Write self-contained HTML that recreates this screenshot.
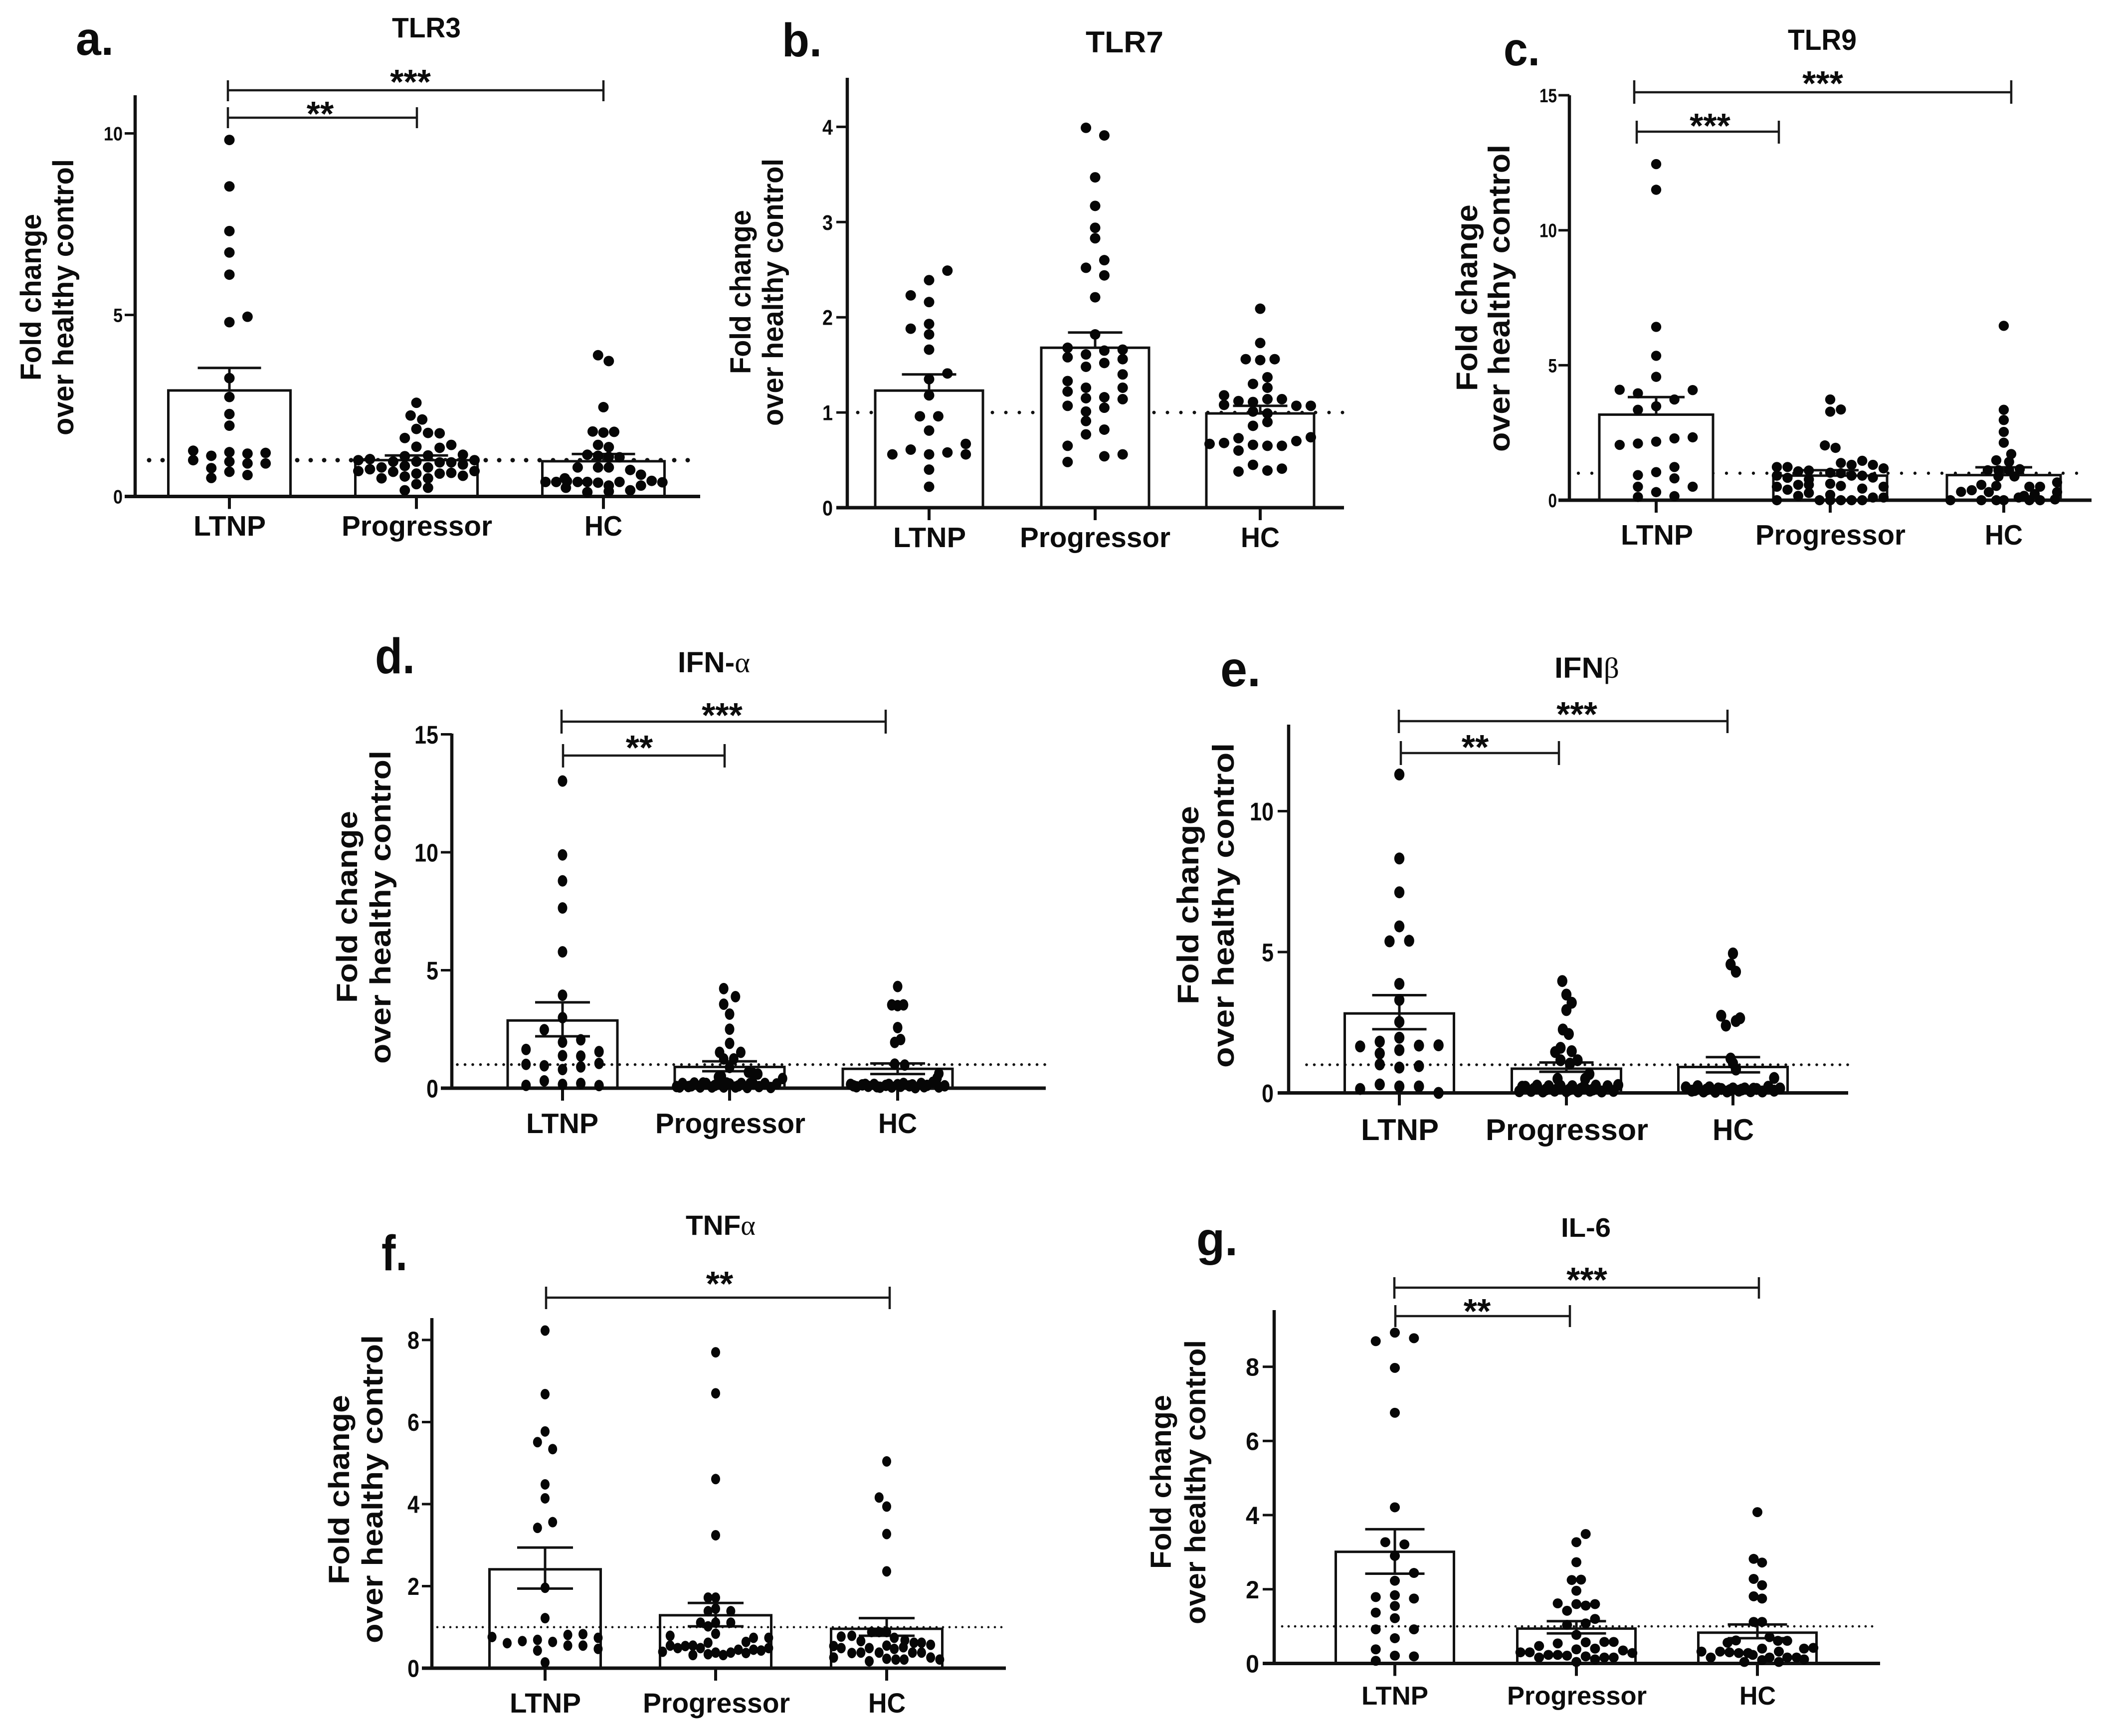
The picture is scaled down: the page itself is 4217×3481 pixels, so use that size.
<!DOCTYPE html>
<html lang="en">
<head>
<meta charset="utf-8">
<title>Fold change over healthy control by group</title>
<style>
html,body{margin:0;padding:0;background:#fff;overflow:hidden;}
svg{display:block;}
text{font-family:"Liberation Sans",sans-serif;font-weight:bold;fill:#0c0c0c;}
.br{fill:none;stroke:#1a1a1a;stroke-width:4.5;}
.gr{font-family:"Liberation Serif",serif;font-weight:normal;}
</style>
</head>
<body>
<svg id="figure" xmlns="http://www.w3.org/2000/svg" width="4217" height="3481" viewBox="0 0 4217 3481">
<rect width="4217" height="3481" fill="#fff"/>

<g id="panel-a">
<text x="152" y="110" font-size="95" textLength="76" lengthAdjust="spacingAndGlyphs">a.</text>
<text x="786" y="75" font-size="57" textLength="138" lengthAdjust="spacingAndGlyphs">TLR3</text>
<text transform="translate(82,763) rotate(-90)" font-size="58" textLength="334" lengthAdjust="spacingAndGlyphs">Fold change</text>
<text transform="translate(147,873) rotate(-90)" font-size="58" textLength="554" lengthAdjust="spacingAndGlyphs">over healthy control</text>
<text x="388" y="1074" font-size="57" textLength="145" lengthAdjust="spacingAndGlyphs">LTNP</text>
<text x="685" y="1074" font-size="57" textLength="302" lengthAdjust="spacingAndGlyphs">Progressor</text>
<text x="1172" y="1074" font-size="57" textLength="76" lengthAdjust="spacingAndGlyphs">HC</text>
<path class="br" d="M457 181H1210M457 161V203M1210 161V203"/>
<path class="br" d="M457 236H836M457 215V257M836 215V257"/>
<text x="823" y="188" font-size="70" text-anchor="middle">***</text>
<text x="642" y="252" font-size="70" text-anchor="middle">**</text>
</g>

<g id="panel-b">
<text x="1568" y="113" font-size="95" textLength="80" lengthAdjust="spacingAndGlyphs">b.</text>
<text x="2177" y="105" font-size="60" textLength="156" lengthAdjust="spacingAndGlyphs">TLR7</text>
<text transform="translate(1505,750) rotate(-90)" font-size="58" textLength="329" lengthAdjust="spacingAndGlyphs">Fold change</text>
<text transform="translate(1570,854) rotate(-90)" font-size="58" textLength="536" lengthAdjust="spacingAndGlyphs">over healthy control</text>
<text x="1791" y="1097" font-size="57" textLength="146" lengthAdjust="spacingAndGlyphs">LTNP</text>
<text x="2045" y="1097" font-size="57" textLength="302" lengthAdjust="spacingAndGlyphs">Progressor</text>
<text x="2488" y="1097" font-size="57" textLength="78" lengthAdjust="spacingAndGlyphs">HC</text>
</g>

<g id="panel-c">
<text x="3015" y="131" font-size="95" textLength="73" lengthAdjust="spacingAndGlyphs">c.</text>
<text x="3585" y="100" font-size="58" textLength="138" lengthAdjust="spacingAndGlyphs">TLR9</text>
<text transform="translate(2962,784) rotate(-90)" font-size="60" textLength="374" lengthAdjust="spacingAndGlyphs">Fold change</text>
<text transform="translate(3027,906) rotate(-90)" font-size="60" textLength="616" lengthAdjust="spacingAndGlyphs">over healthy control</text>
<text x="3250" y="1092" font-size="57" textLength="145" lengthAdjust="spacingAndGlyphs">LTNP</text>
<text x="3520" y="1092" font-size="57" textLength="301" lengthAdjust="spacingAndGlyphs">Progressor</text>
<text x="3980" y="1092" font-size="57" textLength="76" lengthAdjust="spacingAndGlyphs">HC</text>
<path class="br" d="M3277 185H4033M3277 161V208M4033 161V208"/>
<path class="br" d="M3282 264H3567M3282 242V288M3567 242V288"/>
<text x="3655" y="191" font-size="70" text-anchor="middle">***</text>
<text x="3429" y="276" font-size="70" text-anchor="middle">***</text>
</g>

<g id="panel-d">
<text x="752" y="1350" font-size="100" textLength="80" lengthAdjust="spacingAndGlyphs">d.</text>
<text x="1359" y="1348" font-size="58" textLength="145" lengthAdjust="spacingAndGlyphs">IFN-<tspan class="gr">α</tspan></text>
<text transform="translate(716,2011) rotate(-90)" font-size="58" textLength="385" lengthAdjust="spacingAndGlyphs">Fold change</text>
<text transform="translate(783,2133) rotate(-90)" font-size="58" textLength="628" lengthAdjust="spacingAndGlyphs">over healthy control</text>
<text x="1055" y="2272" font-size="57" textLength="145" lengthAdjust="spacingAndGlyphs">LTNP</text>
<text x="1314" y="2272" font-size="57" textLength="301" lengthAdjust="spacingAndGlyphs">Progressor</text>
<text x="1761" y="2272" font-size="57" textLength="78" lengthAdjust="spacingAndGlyphs">HC</text>
<path class="br" d="M1126 1447H1776M1126 1423V1471M1776 1423V1471"/>
<path class="br" d="M1129 1515H1453M1129 1492V1539M1453 1492V1539"/>
<text x="1448" y="1458" font-size="70" text-anchor="middle">***</text>
<text x="1282" y="1523" font-size="70" text-anchor="middle">**</text>
</g>

<g id="panel-e">
<text x="2447" y="1376" font-size="100" textLength="81" lengthAdjust="spacingAndGlyphs">e.</text>
<text x="3117" y="1359" font-size="58" textLength="130" lengthAdjust="spacingAndGlyphs">IFN<tspan class="gr">β</tspan></text>
<text transform="translate(2403,2014) rotate(-90)" font-size="60" textLength="398" lengthAdjust="spacingAndGlyphs">Fold change</text>
<text transform="translate(2474,2141) rotate(-90)" font-size="60" textLength="651" lengthAdjust="spacingAndGlyphs">over healthy control</text>
<text x="2729" y="2286" font-size="60" textLength="156" lengthAdjust="spacingAndGlyphs">LTNP</text>
<text x="2979" y="2286" font-size="60" textLength="326" lengthAdjust="spacingAndGlyphs">Progressor</text>
<text x="3434" y="2286" font-size="60" textLength="83" lengthAdjust="spacingAndGlyphs">HC</text>
<path class="br" d="M2805 1446H3464M2805 1423V1470M3464 1423V1470"/>
<path class="br" d="M2809 1510H3126M2809 1486V1534M3126 1486V1534"/>
<text x="3162" y="1456" font-size="70" text-anchor="middle">***</text>
<text x="2958" y="1522" font-size="70" text-anchor="middle">**</text>
</g>

<g id="panel-f">
<text x="765" y="2547" font-size="100" textLength="52" lengthAdjust="spacingAndGlyphs">f.</text>
<text x="1375" y="2476" font-size="56" textLength="140" lengthAdjust="spacingAndGlyphs">TNF<tspan class="gr">α</tspan></text>
<text transform="translate(700,3177) rotate(-90)" font-size="58" textLength="380" lengthAdjust="spacingAndGlyphs">Fold change</text>
<text transform="translate(767,3295) rotate(-90)" font-size="58" textLength="618" lengthAdjust="spacingAndGlyphs">over healthy control</text>
<text x="1022" y="3434" font-size="56" textLength="143" lengthAdjust="spacingAndGlyphs">LTNP</text>
<text x="1289" y="3434" font-size="56" textLength="295" lengthAdjust="spacingAndGlyphs">Progressor</text>
<text x="1741" y="3434" font-size="56" textLength="75" lengthAdjust="spacingAndGlyphs">HC</text>
<path class="br" d="M1095 2602H1784M1095 2580V2625M1784 2580V2625"/>
<text x="1443" y="2598" font-size="70" text-anchor="middle">**</text>
</g>

<g id="panel-g">
<text x="2399" y="2517" font-size="95" textLength="83" lengthAdjust="spacingAndGlyphs">g.</text>
<text x="3130" y="2480" font-size="54" textLength="100" lengthAdjust="spacingAndGlyphs">IL-6</text>
<text transform="translate(2348,3146) rotate(-90)" font-size="58" textLength="349" lengthAdjust="spacingAndGlyphs">Fold change</text>
<text transform="translate(2417,3257) rotate(-90)" font-size="58" textLength="570" lengthAdjust="spacingAndGlyphs">over healthy control</text>
<text x="2730" y="3418" font-size="52" textLength="134" lengthAdjust="spacingAndGlyphs">LTNP</text>
<text x="3022" y="3418" font-size="52" textLength="280" lengthAdjust="spacingAndGlyphs">Progressor</text>
<text x="3488" y="3418" font-size="52" textLength="73" lengthAdjust="spacingAndGlyphs">HC</text>
<path class="br" d="M2796 2582H3527M2796 2561V2604M3527 2561V2604"/>
<path class="br" d="M2798 2639H3148M2798 2617V2661M3148 2617V2661"/>
<text x="3182" y="2590" font-size="70" text-anchor="middle">***</text>
<text x="2962" y="2653" font-size="70" text-anchor="middle">**</text>
</g>
</svg>

<script>
const groupNames = ['ltnp', 'progressor', 'hc'];

/* a. TLR3 */
const tlr3Ticks = [0, 5, 10];
const tlr3Means = [2.92, 1.0, 0.97];
const tlr3ErrUp = [3.54, 1.13, 1.17];
const tlr3ErrLow = [null, null, null];
const tlr3Ltnp = [9.82,8.54,7.31,6.72,6.11,4.80,4.95,3.26,2.74,2.27,1.95,1.26,1.0,1.12,0.78,0.51,1.22,0.96,0.68,1.18,0.91,0.59,1.2,0.91];
const tlr3LtnpCols = [0,0,0,0,0,0,1,0,0,0,0,-2,-2,-1,-1,-1,0,0,0,1,1,1,2,2];
const tlr3Prog = [2.58,2.23,2.12,1.86,1.61,1.75,1.74,1.37,1.34,1.42,1.15,1.0,0.70,0.88,0.57,0.94,0.65,0.94,0.63,1.13,0.80,0.50,0.24,0.96,0.63,0.34,1.11,0.84,0.55,0.17,0.96,0.68,0.8,0.5,1.03,0.75,1.0,0.7];
const tlr3ProgCols = [0,-0.5,0.5,0,-1,1,2,0,2,3,4,5,5,4,4,3,3,2,2,1,1,1,1,0,0,0,-1,-1,-1,-1,-2,-2,-3,-3,-4,-4,-5,-5];
const tlr3Hc = [3.89,3.73,2.46,1.79,1.76,1.78,1.42,1.36,1.15,1.12,1.09,1.08,0.8,0.8,0.8,0.73,0.6,0.5,0.4,0.4,0.42,0.4,0.4,0.38,0.3,0.4,0.3,0.43,0.39,0.24,0.17,0.14,0.12];
const tlr3HcCols = [-0.5,0.5,0,-1,0,1,-0.5,0.5,-1.5,-0.5,0.5,1.5,-2.4,-0.5,0.5,2.5,3.5,-3.6,-5.4,-4.4,-3.4,-2.4,-1.5,-0.5,0.5,1.5,3.5,4.5,5.5,-3.5,2.5,0.5,-1.5];

/* b. TLR7 */
const tlr7Ticks = [0, 1, 2, 3, 4];
const tlr7Means = [1.23, 1.68, 0.99];
const tlr7ErrUp = [1.40, 1.84, 1.07];
const tlr7ErrLow = [null, null, null];
const tlr7Ltnp = [2.49,2.39,2.23,2.16,1.93,1.88,1.82,1.66,1.41,1.35,1.18,0.96,0.96,0.81,0.67,0.56,0.58,0.61,0.56,0.56,0.40,0.22];
const tlr7LtnpCols = [1,0,-1,0,0,-1,0,0,1,0,0,-0.5,0.5,0,2,2,1,-1,-2,0,0,0];
const tlr7Prog = [3.99,3.91,3.47,3.17,2.94,2.83,2.60,2.52,2.44,2.21,1.82,1.68,1.58,1.61,1.48,1.65,1.52,1.66,1.56,1.40,1.33,1.22,1.26,1.15,1.16,1.05,1.26,1.14,1.07,1.01,0.91,0.77,0.82,0.65,0.48,0.54,0.56];
const tlr7ProgCols = [-0.5,0.5,0,0,0,0,0.5,-0.5,0.5,0,0,-1.5,-1.5,-0.5,-0.5,0.5,0.5,1.5,1.5,1.5,-1.5,-1.5,-0.5,-0.5,0.5,0.5,1.5,1.5,-1.5,-0.5,-0.5,-0.5,0.5,-1.5,-1.5,0.5,1.5];
const tlr7Hc = [2.09,1.73,1.56,1.55,1.56,1.37,1.30,1.26,1.18,1.08,1.12,1.11,1.14,1.14,1.07,1.07,1.01,0.99,0.90,0.86,0.67,0.68,0.73,0.60,0.66,0.65,0.65,0.70,0.74,0.38,0.45,0.39,0.41];
const tlr7HcCols = [0,0,-1,0,1,0.5,-0.5,0.5,-2.5,-2.5,-1.5,-0.5,0.5,1.5,2.5,3.5,-0.5,0.5,0.5,-0.5,-3.5,-2.5,-1.5,-1.5,-0.5,0.5,1.5,2.5,3.5,-1.5,-0.5,0.5,1.5];

/* c. TLR9 */
const tlr9Ticks = [0, 5, 10, 15];
const tlr9Means = [3.17, 0.91, 0.93];
const tlr9ErrUp = [3.82, 1.11, 1.22];
const tlr9ErrLow = [null, null, null];
const tlr9Ltnp = [12.45,11.5,6.42,5.35,4.57,4.09,3.96,4.08,3.73,3.48,3.35,2.33,2.29,2.17,2.10,2.05,1.23,1.04,0.93,0.81,0.50,0.50,0.30,0.12,0.15];
const tlr9LtnpCols = [0,0,0,0,0,-2,-1,2,1,0,-1,2,1,0,-1,-2,1,0,-1,1,-1,2,0,-1,1];
const tlr9Prog = [3.73,3.28,3.36,2.03,1.94,1.46,1.38,1.31,1.31,1.23,1.23,1.18,1.07,1.10,1.02,1.0,0.91,0.83,0.77,0.91,0.91,0.84,0.50,0.39,0.57,0.57,0.61,0.53,0.43,0.50,0.16,0.27,0.2,0,0,0,0,0,0,0.1,0.1];
const tlr9ProgCols = [0,0,1,-0.5,0.5,3,1,2,4,-5,-4,5,-3,-2,0,1,-5,-4,-2,2,3,4,-5,-4,-3,-2,0,1,3,5,-3,-2,0,-5,-1,0,1,2,3,4,5];
const tlr9Hc = [6.46,3.35,2.97,2.53,2.13,1.71,1.48,1.42,1.11,1.11,1.11,1.15,0.88,0.88,0.66,0.5,0.5,0.53,0.57,0.37,0.31,0.3,0.3,0.23,0.16,0.1,0,0,0,0,0,0,0.03];
const tlr9HcCols = [0,0,0,0,0,0.7,-0.7,0.5,-1.5,-0.5,0.5,1.5,-0.5,1,5,3.4,2.4,-0.7,-2.1,-3,-4,-1.4,5,2.9,1.9,1.4,-5,-2.1,-0.7,0,2.4,3.4,4.8];

/* d. IFN-alpha */
const ifnaTicks = [0, 5, 10, 15];
const ifnaMeans = [2.87, 0.90, 0.82];
const ifnaErrUp = [3.64, 1.14, 1.05];
const ifnaErrLow = [2.2, 0.72, 0.60];
const ifnaLtnp = [13.02,9.89,8.79,7.64,5.78,3.94,2.99,2.48,2.05,1.95,1.64,1.55,1.38,1.36,1.01,0.95,1.05,0.9,0.79,0.31,0.12,0.16,0.2,0.11];
const ifnaLtnpCols = [0,0,0,0,0,0,0,-1,1,0,-2,2,0,1,-2,-1,2,1,0,-1,-2,0,1,2];
const ifnaProg = [4.22,3.88,3.56,3.14,2.5,1.9,1.52,1.52,1.24,1.24,0.88,0.5,0.47,0.68,0.62,0.6,0.41,0.07,0.2,0.07,0.22,0.05,0.2,0.05,0.2,0.05,0.18,0.05,0.2,0.03,0.2,0.07,0.2,0.03,0.18,0.05,0.1,0.22,0.12,0.22,0.1,0.2];
const ifnaProgCols = [-1,1,-1,0,0,0,-1.7,1.9,-1,0.7,0,-1.4,-1.9,3.2,4,4.8,9,-9,-8,-7,-6,-5,-4,-3,-2,-1,0,1,2,3,4,5,6,7,8,-8.5,-6.5,-4.5,-2.5,-0.5,1.5,3.5];
const ifnaHc = [4.31,3.53,3.5,3.53,2.57,2.06,1.94,1.02,0.98,0.62,0.43,0.16,0.06,0.14,0.08,0.16,0.04,0.12,0.05,0.15,0.2,0.1,0.02,0.2,0.12,0.25,0.05,0.1,0.1,0.16,0.06,0.16,0.08,0.14,0.06];
const ifnaHcCols = [0,-1,0,1,0,0.5,-0.5,-0.5,1.2,7,6.7,-8,-7,-6,-5,-4,-3,-2,-1,0,1,2,3,4,5,6,7,8,-7.5,-5.5,-3.5,-1.5,0.5,2.5,4.5];

/* e. IFN-beta */
const ifnbTicks = [0, 5, 10];
const ifnbMeans = [2.82, 0.86, 0.92];
const ifnbErrUp = [3.47, 1.08, 1.27];
const ifnbErrLow = [2.26, 0.75, 0.73];
const ifnbLtnp = [11.3,8.32,7.12,5.91,5.38,5.40,3.87,3.3,2.52,1.96,1.82,1.65,1.68,1.69,1.52,1.40,1.01,0.95,0.9,0.3,0.23,0.23,0.14,0];
const ifnbLtnpCols = [0,0,0,0,-0.5,0.5,0,0,0,0,-1,-2,1,2,0,-1,-1,1,0,-1,1,0,-2,2];
const ifnbProg = [3.97,3.49,3.2,2.94,2.25,2.09,1.6,1.45,1.48,1.16,1.16,1.04,0.5,0.67,0.5,0.28,0.06,0.22,0.07,0.26,0.05,0.24,0.08,0.25,0.06,0.24,0.05,0.22,0.08,0.26,0.05,0.24,0.07,0.22,0.15,0.12,0.15,0.12,0.15,0.12];
const ifnbProgCols = [-0.7,0,0.9,0,-0.6,0.4,-1,-1.9,0.9,-1,1.9,0.6,-1.5,3.9,3.2,8.8,-8,-7,-6,-5,-4,-3,-2,-1,0,1,2,3,4,5,6,7,8,-7.5,-5.5,-3.5,-1.5,0.5,2.5,4.5];
const ifnbHc = [4.95,4.56,4.3,2.74,2.65,2.55,2.39,1.22,1.05,0.83,0.53,0.2,0.08,0.24,0.05,0.2,0.04,0.14,0.05,0.16,0.08,0.16,0.06,0.14,0.05,0.22,0.08,0.16,0.1,0.12,0.16,0.1,0.12,0.15];
const ifnbHcCols = [0,-0.4,0.5,-2,1.2,0.5,-1.2,-0.4,0,0.5,7,-8,-7,-6,-5,-4,-3,-2,-1,0,1,2,3,4,5,6,7,8,-6.5,-4.5,-2.5,-0.5,1.5,3.5];

/* f. TNF-alpha */
const tnfTicks = [0, 2, 4, 6, 8];
const tnfMeans = [2.41, 1.29, 0.96];
const tnfErrUp = [2.94, 1.59, 1.22];
const tnfErrLow = [1.94, 1.02, 0.79];
const tnfLtnp = [8.23,6.68,5.77,5.51,5.34,4.48,4.14,3.56,3.42,1.96,1.22,0.76,0.61,0.66,0.69,0.64,0.81,0.55,0.83,0.55,0.74,0.47,0.43,0.14];
const tnfLtnpCols = [0,0,0,-0.5,0.5,0,0,0.5,-0.5,0,0,-3.5,-2.5,-1.5,-0.5,0.5,1.5,1.5,2.5,2.5,3.5,3.5,-0.5,0];
const tnfProg = [7.7,6.7,4.61,3.24,1.72,1.72,1.39,1.45,1.39,1.11,1.02,1.11,1.11,0.84,0.79,0.74,0.74,0.64,0.49,0.4,0.55,0.49,0.54,0.55,0.32,0.49,0.62,0.34,0.38,0.32,0.38,0.45,0.37,0.45,0.43];
const tnfProgCols = [0,0,0,0,-1,0,-1,0,2,-2,-1,0,2,0,-6,5,7,4,7,-7,-6,-5,-4,-3,-3,-2,-1,-1,0,1,2,3,4,5,6];
const tnfHc = [5.04,4.16,3.94,3.27,2.36,0.88,0.88,0.88,0.77,0.79,0.66,0.74,0.68,0.62,0.62,0.57,0.54,0.49,0.37,0.38,0.49,0.38,0.55,0.47,0.51,0.38,0.38,0.26,0.26,0.21,0.17,0.23,0.21,0.21];
const tnfHcCols = [0,-1,0,0,0,-2,-1,0,-6,-4.6,-3.4,1,2.4,3.6,4.6,5.8,-7,-6,-4.6,-3.4,-2.3,-1,0,1,2.2,3.4,4.6,-7,5.8,7,-2.3,0,1.2,2.3];

/* g. IL-6 */
const il6Ticks = [0, 2, 4, 6, 8];
const il6Means = [3.01, 0.94, 0.83];
const il6ErrUp = [3.62, 1.14, 1.05];
const il6ErrLow = [2.42, 0.81, 0.68];
const il6Ltnp = [8.92,8.77,8.69,7.97,6.76,4.21,3.27,3.21,2.90,2.44,2.23,1.79,1.84,1.75,1.55,1.37,1.22,0.92,0.92,0.68,0.38,0.21,0.19,0.07];
const il6LtnpCols = [0,1,-1,0,0,0,-0.5,0.5,0,1,0,-1,0,1,0,-1,0,-1,1,0,-1,0,1,-1];
const il6Prog = [3.49,3.27,2.73,2.25,2.26,1.96,1.62,1.6,1.56,1.6,1.42,1.2,1.08,1.04,0.77,0.47,0.54,0.57,0.58,0.58,0.38,0.4,0.35,0.3,0.3,0.28,0.16,0.23,0.23,0.21,0.19,0.11,0.16,0.16,0.04];
const il6ProgCols = [1,0,0,-0.5,0.5,0,-2,0,1,2,-1,2,1,-1,0,-4,-2,1,3,4,0,2,5,-6,-5,6,-4,-3,-2,-1,1,2,3,4,0];
const il6Hc = [4.08,2.82,2.72,2.28,2.11,1.81,1.75,1.12,1.12,0.71,0.62,0.56,0.61,0.61,0.4,0.42,0.4,0.32,0.32,0.3,0.28,0.28,0.32,0.16,0.23,0.16,0.16,0.16,0.11,0.04,0.09,0.04];
const il6HcCols = [0,-0.4,0.5,-0.4,0.5,-0.4,0.5,-0.4,0.5,1.3,-2.3,-3.2,2.2,3.2,5,6,0.5,-6,-4,-3,-2,-1,2.3,-5,-0.5,1.3,3.2,4.2,5,-1.4,0.5,2.3];

/* Panel geometry: axes frame, category centres, swarm column width, mark sizes. */
const panelLayouts = {
  a: {axisX:271, baseY:995.5, unit:72.8, top:191, left:250, right:1404, cats:[460,835,1210], barW:245, capW:127, step:[36.3,23.3,21.5], rx:10.5, ry:10.5, dotY:1, dotFrom:299, dotTo:1404, dotGap:27, dotR:4.5, dotOnTop:false, tickSize:39, tickEnd:246, digitW:19},
  b: {axisX:1699, baseY:1018, unit:190.9, top:156, left:1677, right:2695, cats:[1863,2196,2527], barW:216, capW:109, step:[36.8,36.8,29], rx:10.5, ry:10.5, dotY:1, dotFrom:1720, dotTo:2693, dotGap:27, dotR:3.5, dotOnTop:false, tickSize:43, tickEnd:1670, digitW:21},
  c: {axisX:3147, baseY:1003, unit:54.13, top:191, left:3125, right:4194, cats:[3321,3670,4018], barW:228, capW:114, step:[36.6,21.4,21.4], rx:10.2, ry:10.2, dotY:1, dotFrom:3165, dotTo:4183, dotGap:27, dotR:3.2, dotOnTop:false, tickSize:39, tickEnd:3122, digitW:17.5},
  d: {axisX:906, baseY:2182, unit:47.3, top:1471, left:884, right:2097, cats:[1128,1463,1800], barW:220, capW:110, step:[36.6,11.8,11.8], rx:9.5, ry:11.5, dotY:1, dotFrom:917, dotTo:2097, dotGap:15.5, dotR:2.8, dotOnTop:true, tickSize:51, tickEnd:879, digitW:24},
  e: {axisX:2584, baseY:2191.5, unit:56.5, top:1453, left:2562, right:3706, cats:[2806,3141,3475], barW:219, capW:109, step:[39.3,11.8,11.8], rx:10.2, ry:12, dotY:1, dotFrom:2620, dotTo:3706, dotGap:15.5, dotR:2.8, dotOnTop:true, tickSize:51, tickEnd:2554, digitW:24},
  f: {axisX:866, baseY:3345, unit:82.26, top:2643, left:846, right:2017, cats:[1093,1435,1778], barW:223, capW:112, step:[30.4,15.2,15.2], rx:9, ry:10.5, dotY:1, dotFrom:877, dotTo:2017, dotGap:13, dotR:2.3, dotOnTop:true, tickSize:49, tickEnd:841, digitW:24},
  g: {axisX:2555, baseY:3335.5, unit:74.36, top:2627, left:2532, right:3770, cats:[2797,3161,3524], barW:237, capW:119, step:[38.3,18.7,18.7], rx:10, ry:10, dotY:1, dotFrom:2571, dotTo:3759, dotGap:13, dotR:2.4, dotOnTop:true, tickSize:50, tickEnd:2525, digitW:27}
};

const panels = [
  {id:'a', ticks:tlr3Ticks, means:tlr3Means, up:tlr3ErrUp, low:tlr3ErrLow, vals:[tlr3Ltnp,tlr3Prog,tlr3Hc], cols:[tlr3LtnpCols,tlr3ProgCols,tlr3HcCols]},
  {id:'b', ticks:tlr7Ticks, means:tlr7Means, up:tlr7ErrUp, low:tlr7ErrLow, vals:[tlr7Ltnp,tlr7Prog,tlr7Hc], cols:[tlr7LtnpCols,tlr7ProgCols,tlr7HcCols]},
  {id:'c', ticks:tlr9Ticks, means:tlr9Means, up:tlr9ErrUp, low:tlr9ErrLow, vals:[tlr9Ltnp,tlr9Prog,tlr9Hc], cols:[tlr9LtnpCols,tlr9ProgCols,tlr9HcCols]},
  {id:'d', ticks:ifnaTicks, means:ifnaMeans, up:ifnaErrUp, low:ifnaErrLow, vals:[ifnaLtnp,ifnaProg,ifnaHc], cols:[ifnaLtnpCols,ifnaProgCols,ifnaHcCols]},
  {id:'e', ticks:ifnbTicks, means:ifnbMeans, up:ifnbErrUp, low:ifnbErrLow, vals:[ifnbLtnp,ifnbProg,ifnbHc], cols:[ifnbLtnpCols,ifnbProgCols,ifnbHcCols]},
  {id:'f', ticks:tnfTicks, means:tnfMeans, up:tnfErrUp, low:tnfErrLow, vals:[tnfLtnp,tnfProg,tnfHc], cols:[tnfLtnpCols,tnfProgCols,tnfHcCols]},
  {id:'g', ticks:il6Ticks, means:il6Means, up:il6ErrUp, low:il6ErrLow, vals:[il6Ltnp,il6Prog,il6Hc], cols:[il6LtnpCols,il6ProgCols,il6HcCols]}
];

const SVGNS = 'http://www.w3.org/2000/svg';
function shape(parent, tag, attrs) {
  const el = document.createElementNS(SVGNS, tag);
  for (const k in attrs) el.setAttribute(k, attrs[k]);
  parent.appendChild(el);
  return el;
}
const INK = '#111';

panels.forEach(function (p) {
  const L = panelLayouts[p.id];
  const g = document.getElementById('panel-' + p.id);
  const yScale = function (v) { return L.baseY - v * L.unit; };
  const xScale = function (groupIndex, col) { return L.cats[groupIndex] + (col || 0) * L.step[groupIndex]; };

  function drawDotted() {
    const line = shape(g, 'line', {x1:L.dotFrom, x2:L.dotTo, y1:yScale(L.dotY), y2:yScale(L.dotY), stroke:INK, 'stroke-width':L.dotR * 2, 'stroke-linecap':'round', 'stroke-dasharray':'0 ' + L.dotGap});
    
    
  }
  if (!L.dotOnTop) drawDotted();

  p.means.forEach(function (m, i) {
    const bar = shape(g, 'rect', {x:xScale(i) - L.barW / 2, y:yScale(m), width:L.barW, height:L.baseY - yScale(m), fill:'#fff', stroke:INK, 'stroke-width':5});
    
    
  });
  if (L.dotOnTop) drawDotted();

  p.means.forEach(function (m, i) {
    const x = xScale(i);
    const hasLow = p.low[i] !== null;
    const stem = shape(g, 'line', {x1:x, x2:x, y1:yScale(p.up[i]), y2:yScale(hasLow ? p.low[i] : m), stroke:INK, 'stroke-width':5});
    
    
    const capUp = shape(g, 'line', {x1:x - L.capW / 2, x2:x + L.capW / 2, y1:yScale(p.up[i]), y2:yScale(p.up[i]), stroke:INK, 'stroke-width':5});
    
    
    if (hasLow) {
      const capLow = shape(g, 'line', {x1:x - L.capW / 2, x2:x + L.capW / 2, y1:yScale(p.low[i]), y2:yScale(p.low[i]), stroke:INK, 'stroke-width':5});
      
      
    }
  });

  const yAxis = shape(g, 'line', {x1:L.axisX, x2:L.axisX, y1:L.top, y2:L.baseY + 3, stroke:INK, 'stroke-width':6.5});
  
  
  const xAxis = shape(g, 'line', {x1:L.left, x2:L.right, y1:L.baseY, y2:L.baseY, stroke:INK, 'stroke-width':7});
  
  

  p.ticks.forEach(function (t) {
    const mark = shape(g, 'line', {x1:L.left, x2:L.axisX, y1:yScale(t), y2:yScale(t), stroke:INK, 'stroke-width':5});
    
    
    const label = String(t);
    const txt = shape(g, 'text', {x:L.tickEnd, y:yScale(t) + L.tickSize * 0.36, 'font-size':L.tickSize, 'text-anchor':'end', textLength:label.length * L.digitW, lengthAdjust:'spacingAndGlyphs'});
    txt.textContent = label;
    
    
  });

  L.cats.forEach(function (c, i) {
    const mark = shape(g, 'line', {x1:xScale(i), x2:xScale(i), y1:L.baseY, y2:L.baseY + 25, stroke:INK, 'stroke-width':6});
    
    
  });

  p.vals.forEach(function (series, i) {
    series.forEach(function (v, j) {
      const dot = shape(g, 'ellipse', {cx:xScale(i, p.cols[i][j]), cy:yScale(v), rx:L.rx, ry:L.ry, fill:'#060606'});
      
      
    });
  });
});
</script>
</body>
</html>
